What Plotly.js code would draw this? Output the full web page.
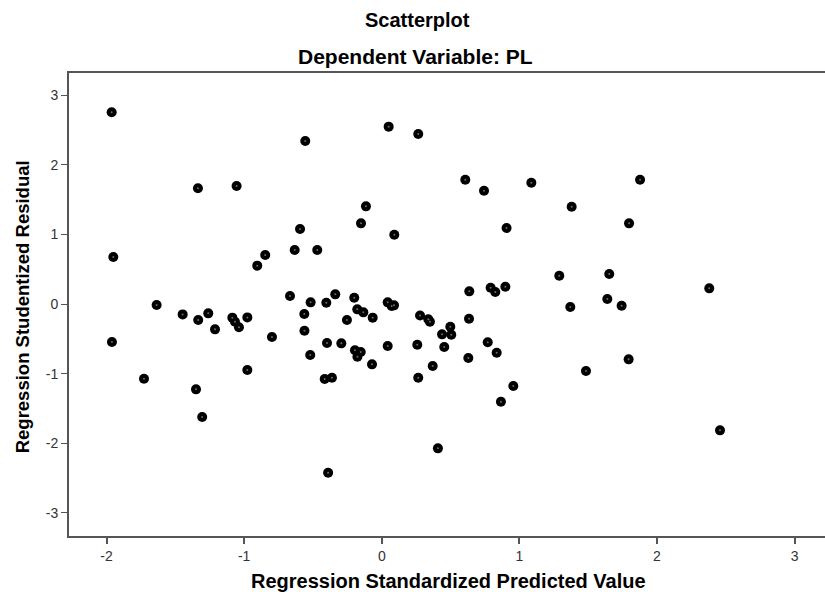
<!DOCTYPE html>
<html>
<head>
<meta charset="utf-8">
<script src="https://cdn.plot.ly/plotly-3.0.1.min.js"></script>
<style>html,body{margin:0;padding:0;background:#fff;}#chart{width:825px;height:592px;}</style>
</head>
<body>
<div id="chart"></div>
<script>
// Regression Standardized Predicted Value
const predicted = [
  -1.963, -1.951, -1.961, -1.728, -1.636, -1.447, -1.350, -1.336, -1.334, -1.305,
  -1.261, -1.212, -1.086, -1.067, -1.055, -1.038, -0.977, -0.977, -0.905, -0.847,
  -0.798, -0.667, -0.633, -0.594, -0.563, -0.562, -0.556, -0.520, -0.517, -0.469,
  -0.415, -0.403, -0.398, -0.390, -0.362, -0.338, -0.294, -0.253, -0.200, -0.195,
  -0.178, -0.177, -0.153, -0.151, -0.134, -0.115, -0.071, -0.066, 0.043, 0.043,
  0.050, 0.072, 0.089, 0.091, 0.278, 0.258, 0.265, 0.265, 0.338, 0.350,
  0.370, 0.408, 0.438, 0.454, 0.498, 0.505, 0.607, 0.629, 0.634, 0.636,
  0.743, 0.770, 0.791, 0.825, 0.835, 0.866, 0.898, 0.907, 0.956, 1.087,
  1.290, 1.370, 1.380, 1.484, 1.639, 1.653, 1.743, 1.794, 1.797, 1.877,
  2.380, 2.458
];
// Regression Studentized Residual
const residual = [
  2.754, 0.675, -0.546, -1.073, -0.014, -0.149, -1.226, 1.662, -0.230, -1.624,
  -0.134, -0.364, -0.196, -0.254, 1.695, -0.335, -0.192, -0.948, 0.551, 0.704,
  -0.474, 0.115, 0.776, 1.078, -0.144, -0.383, 2.342, -0.733, 0.024, 0.776,
  -1.078, 0.019, -0.560, -2.424, -1.059, 0.139, -0.565, -0.230, 0.091, -0.665,
  -0.077, -0.757, -0.690, 1.159, -0.120, 1.403, -0.867, -0.196, 0.024, -0.603,
  2.548, -0.029, -0.019, 0.996, -0.165, -0.585, 2.443, -1.059, -0.220, -0.254,
  -0.891, -2.074, -0.436, -0.618, -0.326, -0.441, 1.786, -0.776, -0.211, 0.182,
  1.628, -0.550, 0.234, 0.172, -0.700, -1.403, 0.249, 1.092, -1.178, 1.743,
  0.407, -0.043, 1.398, -0.963, 0.072, 0.431, -0.024, -0.795, 1.159, 1.786,
  0.225, -1.815
];
const xTickVals = [-2, -1, 0, 1, 2, 3];
const xTickText = ["-2", "-1", "0", "1", "2", "3"];
const yTickVals = [-3, -2, -1, 0, 1, 2, 3];
const yTickText = ["-3", "-2", "-1", "0", "1", "2", "3"];

const FONT = "Liberation Sans, Arial, sans-serif";

const traces = [
  {
    x: predicted, y: residual, type: "scatter", mode: "markers",
    marker: {color: "#000", size: 10, line: {width: 0}},
    hoverinfo: "skip", showlegend: false
  },
  {
    x: predicted, y: residual, type: "scatter", mode: "markers",
    marker: {color: "#6a6a6a", size: 2, line: {width: 0}},
    hoverinfo: "skip", showlegend: false
  }
];

const layout = {
  width: 825, height: 592,
  margin: {l: 69, r: 0, t: 73, b: 56, pad: 0},
  paper_bgcolor: "#fff", plot_bgcolor: "#fff",
  font: {family: FONT, color: "#333", size: 14},
  showlegend: false,
  xaxis: {
    range: [-2.273, 3.221], showgrid: false, zeroline: false,
    showline: true, linecolor: "#555", linewidth: 2, mirror: true,
    ticks: "outside", ticklen: 6, tickwidth: 2, tickcolor: "#555",
    tickvals: xTickVals, ticktext: xTickText,
    tickfont: {family: FONT, size: 14, color: "#333"}
  },
  yaxis: {
    range: [-3.333, 3.319], showgrid: false, zeroline: false,
    showline: true, linecolor: "#555", linewidth: 2,
    ticks: "outside", ticklen: 6, tickwidth: 1, tickcolor: "#555",
    tickvals: yTickVals, ticktext: yTickText,
    tickfont: {family: FONT, size: 14, color: "#333"}
  },
  annotations: [
    {text: "<b>Scatterplot</b>", xref: "paper", yref: "paper",
     x: 0.461, y: 1.1151, xanchor: "center", yanchor: "middle", showarrow: false,
     font: {family: FONT, size: 20, color: "#000"}},
    {text: "<b>Dependent Variable: PL</b>", xref: "paper", yref: "paper",
     x: 0.4577, y: 1.0367, xanchor: "center", yanchor: "middle", showarrow: false,
     font: {family: FONT, size: 21, color: "#000"}},
    {text: "<b>Regression Standardized Predicted Value</b>", xref: "paper", yref: "paper",
     x: 0.5026, y: -0.0972, xanchor: "center", yanchor: "middle", showarrow: false,
     font: {family: FONT, size: 20, color: "#000"}},
    {text: "<b>Regression Studentized Residual</b>", xref: "paper", yref: "paper",
     x: -0.0615, y: 0.495, xanchor: "center", yanchor: "middle", showarrow: false, textangle: -90,
     font: {family: FONT, size: 18.5, color: "#000"}}
  ]
};

Plotly.newPlot("chart", traces, layout, {displayModeBar: false, staticPlot: true});
</script>
</body>
</html>
